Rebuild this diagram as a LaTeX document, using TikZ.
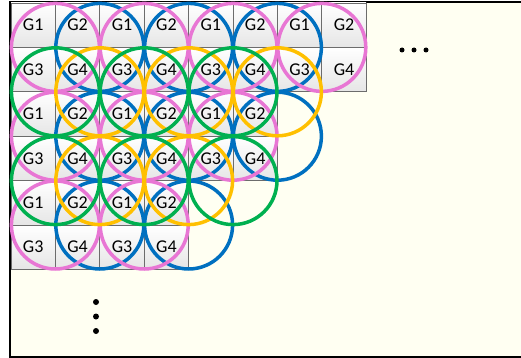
\documentclass[tikz,border=0pt]{standalone}
\usepackage{fontspec}
\setmainfont{Carlito}
\definecolor{bg}{RGB}{255,255,242}
\definecolor{cpink}{RGB}{232,118,212}
\definecolor{cblue}{RGB}{0,112,192}
\definecolor{cgreen}{RGB}{0,176,80}
\definecolor{cyellow}{RGB}{255,192,0}
\begin{document}
\begin{tikzpicture}[x=1pt,y=-1pt,
  cell/.style={draw=gray!85!black, line width=0.8pt, top color=white, bottom color=gray!20,
    minimum width=44.4pt, minimum height=44.4pt, inner sep=0pt,
    font=\fontsize{18}{18}\selectfont},
  ring/.style={line width=3.5pt},
  dot/.style={fill=black}]
\useasboundingbox (0,0) rectangle (521,358);
\fill[bg] (10,2) rectangle (530,357);
\draw[line width=2pt] (530,2) -- (10,2) -- (10,357) -- (530,357);
% cells
\foreach \r/\n in {0/7,1/7,2/5,3/5,4/3,5/3}{
  \foreach \c in {0,...,\n}{
    \pgfmathtruncatemacro\g{1+mod(\c,2)+2*mod(\r,2)}
    \node[cell] (c\r-\c) at ({11+44.4*(\c+0.5)},{3+44.4*(\r+0.5)}) {G\g};
  }
}
% rings
\foreach \i/\j in {2/1,4/1,6/1,2/3,4/3,6/3,2/5,4/5}
  \draw[ring,cblue] ({11+44.4*\i},{3+44.4*\j}) circle[radius=44pt];
\foreach \i/\j in {1/1,3/1,5/1,7/1,1/3,3/3,5/3,1/5,3/5}
  \draw[ring,cpink] ({11+44.4*\i},{3+44.4*\j}) circle[radius=44pt];
\foreach \i/\j in {2/2,4/2,6/2,2/4,4/4}
  \draw[ring,cyellow] ({11+44.4*\i},{3+44.4*\j}) circle[radius=44pt];
\foreach \i/\j in {1/2,3/2,5/2,1/4,3/4,5/4}
  \draw[ring,cgreen] ({11+44.4*\i},{3+44.4*\j}) circle[radius=44pt];
% ellipses
\foreach \x in {402,414,426} \fill[dot] (\x,50) circle[radius=2.5pt];
\foreach \y in {302,316.5,331} \fill[dot] (96,\y) circle[radius=3pt];
\end{tikzpicture}
\end{document}
